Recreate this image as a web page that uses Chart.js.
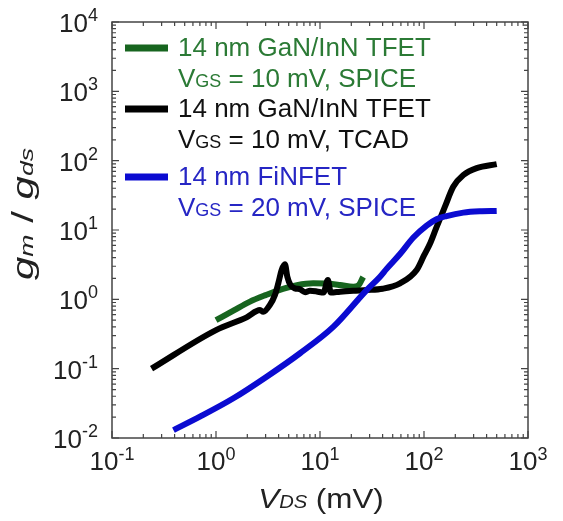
<!DOCTYPE html>
<html>
<head>
<meta charset="utf-8">
<script src="https://cdn.jsdelivr.net/npm/chart.js@4.4.0/dist/chart.umd.min.js"></script>
<style>
html, body { margin: 0; padding: 0; background: #fff; }
</style>
</head>
<body>
<canvas id="chart" width="563" height="521"></canvas>
<script>
// 14 nm GaN/InN TFET, VGS = 10 mV, SPICE
const greenX = [1.0, 1.5, 2.1, 3.0, 4.4, 6.0, 8.6, 12, 15.6, 20.9, 23.5, 26];
const greenY = [0.5, 0.7, 0.92, 1.15, 1.42, 1.6, 1.7, 1.68, 1.61, 1.52, 1.6, 2.1];

// 14 nm GaN/InN TFET, VGS = 10 mV, TCAD
const blackX = [0.24, 1.0, 1.97, 2.65, 2.85, 3.3, 3.69, 3.97, 4.28, 4.6, 4.85, 5.2, 5.75, 6.4, 7.2, 8.0, 9.3,
  10.8, 11.9, 12.7, 15.6, 20.9, 28.1, 40, 58.8, 85, 100, 115, 132, 159, 191, 239, 321, 500];
const blackY = [0.1, 0.36, 0.55, 0.70, 0.66, 0.83, 1.16, 1.70, 2.65, 3.2, 2.12, 1.61, 1.44, 1.40, 1.27, 1.33, 1.30,
  1.25, 1.9, 1.25, 1.29, 1.33, 1.36, 1.42, 1.70, 2.65, 4.3, 6.5, 11, 21.7, 42, 62, 78, 89];

// 14 nm FiNFET, VGS = 20 mV, SPICE
const blueX = [0.39, 0.7, 1.47, 3.07, 6.43, 13.4, 28.1, 37.8, 43.7, 58.8, 79, 106, 132, 165, 239, 345, 500];
const blueY = [0.013, 0.0203, 0.0374, 0.0766, 0.167, 0.40, 1.36, 2.12, 2.75, 4.5, 7.8, 11.6, 14.3, 15.9, 17.8, 18.6, 18.8];

const xDecades = [0.1, 1, 10, 100, 1000];
const xExponents = ['-1', '0', '1', '2', '3'];
const yDecades = [0.01, 0.1, 1, 10, 100, 1000, 10000];
const yExponents = ['-2', '-1', '0', '1', '2', '3', '4'];

const legendItems = [
  { color: '#17651f', text: '#2b7a35', line1: '14 nm GaN/InN TFET', sub: '10 mV, SPICE' },
  { color: '#000000', text: '#111111', line1: '14 nm GaN/InN TFET', sub: '10 mV, TCAD' },
  { color: '#0b0bd1', text: '#2626c4', line1: '14 nm FiNFET', sub: '20 mV, SPICE' }
];

const FONT = '"Liberation Sans", Arial, sans-serif';

function toPoints(xs, ys) {
  return xs.map((x, i) => ({ x: x, y: ys[i] }));
}

// draw a run of text pieces, each with its own size / style / vertical shift
function drawRich(ctx, x, y, parts, align, stretch) {
  stretch = stretch || 1;
  let w = 0;
  parts.forEach(p => {
    ctx.font = (p.italic ? 'italic ' : '') + p.size + 'px ' + FONT;
    p.w = ctx.measureText(p.t).width;
    w += p.w;
  });
  let start = x;
  if (align === 'center') start = x - w * stretch / 2;
  if (align === 'right') start = x - w * stretch;
  ctx.save();
  ctx.translate(start, y);
  ctx.scale(stretch, 1);
  ctx.textAlign = 'left';
  ctx.textBaseline = 'alphabetic';
  let cx = 0;
  parts.forEach(p => {
    ctx.font = (p.italic ? 'italic ' : '') + p.size + 'px ' + FONT;
    ctx.fillText(p.t, cx, p.dy || 0);
    cx += p.w;
  });
  ctx.restore();
  return w;
}

const framePlugin = {
  id: 'frame',
  afterDraw(chart) {
    const ctx = chart.ctx;
    const a = chart.chartArea;
    const xs = chart.scales.x;
    const ys = chart.scales.y;

    ctx.save();
    ctx.strokeStyle = '#444';
    ctx.lineWidth = 1.5;
    ctx.strokeRect(a.left, a.top, a.right - a.left, a.bottom - a.top);

    // inward ticks on all four sides
    ctx.lineWidth = 1.2;
    ctx.beginPath();
    xDecades.forEach(d => {
      for (let m = 1; m <= 9; m++) {
        const v = d * m;
        if (v > xs.max * 1.0001) break;
        const px = xs.getPixelForValue(v);
        const len = m === 1 ? 7 : 4;
        ctx.moveTo(px, a.bottom); ctx.lineTo(px, a.bottom - len);
        ctx.moveTo(px, a.top); ctx.lineTo(px, a.top + len);
      }
    });
    yDecades.forEach(d => {
      for (let m = 1; m <= 9; m++) {
        const v = d * m;
        if (v > ys.max * 1.0001) break;
        const py = ys.getPixelForValue(v);
        const len = m === 1 ? 7 : 4;
        ctx.moveTo(a.left, py); ctx.lineTo(a.left + len, py);
        ctx.moveTo(a.right, py); ctx.lineTo(a.right - len, py);
      }
    });
    ctx.stroke();

    // tick labels
    ctx.fillStyle = '#222';
    xDecades.forEach((d, i) => {
      const px = xs.getPixelForValue(d);
      drawRich(ctx, px, 470, [
        { t: '10', size: 26 },
        { t: xExponents[i], size: 18, dy: -10 }
      ], 'center');
    });
    yDecades.forEach((d, i) => {
      const py = ys.getPixelForValue(d);
      drawRich(ctx, 98, py + 10, [
        { t: '10', size: 26 },
        { t: yExponents[i], size: 18, dy: -11 }
      ], 'right');
    });

    // axis titles
    drawRich(ctx, 321, 508, [
      { t: 'V', size: 28, italic: true },
      { t: 'DS', size: 18, italic: true },
      { t: ' (mV)', size: 28 }
    ], 'center', 1.12);

    ctx.save();
    ctx.translate(33, 214);
    ctx.rotate(-Math.PI / 2);
    drawRich(ctx, 0, 0, [
      { t: 'g', size: 30, italic: true },
      { t: 'm', size: 19, italic: true },
      { t: ' / ', size: 30 },
      { t: 'g', size: 30, italic: true },
      { t: 'ds', size: 19, italic: true }
    ], 'center', 1.4);
    ctx.restore();

    // legend
    const rows = [48, 109, 177];
    legendItems.forEach((it, i) => {
      const y = rows[i];
      ctx.strokeStyle = it.color;
      ctx.lineWidth = 7;
      ctx.beginPath();
      ctx.moveTo(125, y);
      ctx.lineTo(168, y);
      ctx.stroke();
      ctx.fillStyle = it.text;
      drawRich(ctx, 178, y + 8, [{ t: it.line1, size: 26 }], 'left');
      drawRich(ctx, 178, y + 39, [
        { t: 'V', size: 26 },
        { t: 'GS', size: 18 },
        { t: ' = ' + it.sub, size: 26 }
      ], 'left');
    });
    ctx.restore();
  }
};

new Chart(document.getElementById('chart'), {
  type: 'line',
  data: {
    datasets: [
      {
        label: '14 nm GaN/InN TFET, SPICE',
        data: toPoints(greenX, greenY),
        borderColor: legendItems[0].color,
        borderWidth: 6,
        order: 3
      },
      {
        label: '14 nm GaN/InN TFET, TCAD',
        data: toPoints(blackX, blackY),
        borderColor: legendItems[1].color,
        borderWidth: 6,
        order: 2
      },
      {
        label: '14 nm FiNFET, SPICE',
        data: toPoints(blueX, blueY),
        borderColor: legendItems[2].color,
        borderWidth: 6,
        order: 1
      }
    ]
  },
  options: {
    responsive: false,
    animation: false,
    layout: { padding: { left: 112, right: 35, top: 22, bottom: 83 } },
    elements: {
      point: { radius: 0 },
      line: { cubicInterpolationMode: 'monotone', fill: false }
    },
    plugins: {
      legend: { display: false },
      tooltip: { enabled: false }
    },
    scales: {
      x: { type: 'logarithmic', min: 0.1, max: 1000, display: false },
      y: { type: 'logarithmic', min: 0.01, max: 10000, display: false }
    }
  },
  plugins: [framePlugin]
});
</script>
</body>
</html>
